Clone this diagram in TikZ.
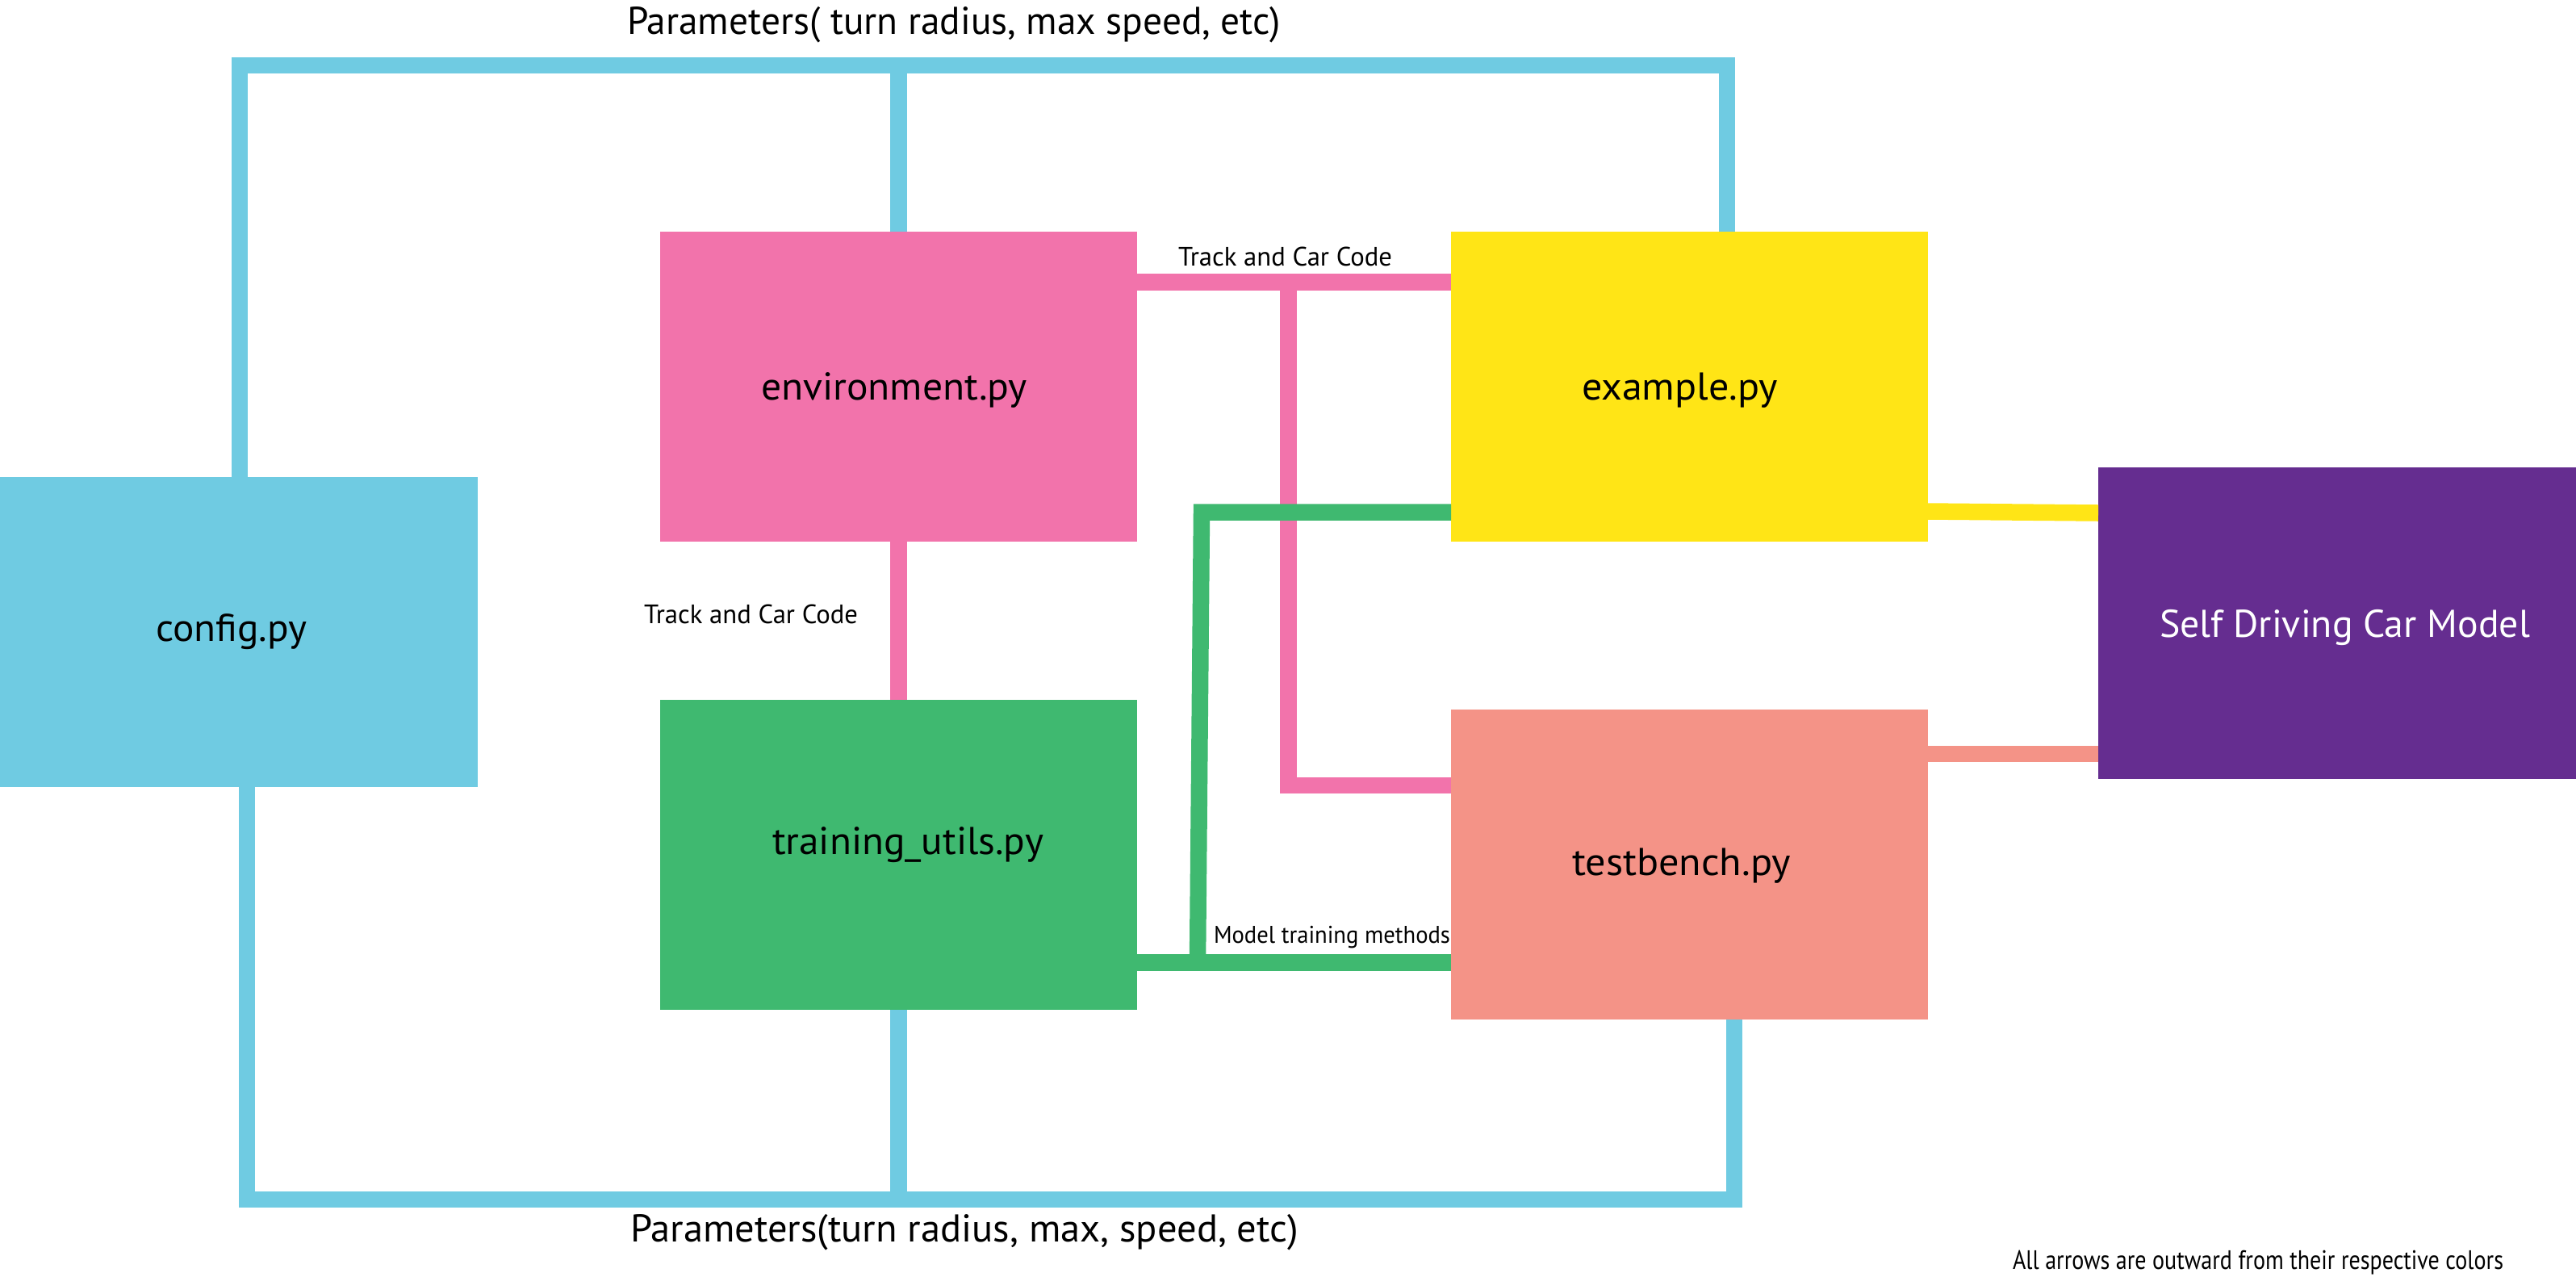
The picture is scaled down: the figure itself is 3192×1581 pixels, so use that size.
\documentclass[tikz,border=0pt]{standalone}
\usepackage{fontspec}
\setmainfont{PT Sans}
\usetikzlibrary{calc}
\definecolor{cblue}{HTML}{6FCBE2}
\definecolor{cpink}{HTML}{F273AB}
\definecolor{cgreen}{HTML}{3FB970}
\definecolor{cyellow}{HTML}{FFE516}
\definecolor{csalmon}{HTML}{F49387}
\definecolor{cpurple}{HTML}{652D90}
\newcommand\fw[2]{\resizebox{#1}{\height}{#2}}
\tikzset{
  boxnode/.style={rectangle, draw=none, inner sep=0pt, outer sep=0pt, anchor=north west},
  conn/.style={line width=10.25pt, line cap=butt, line join=miter},
  blueline/.style={conn, draw=cblue},
  pinkline/.style={conn, draw=cpink},
  greenline/.style={conn, draw=cgreen},
  yellowline/.style={conn, draw=cyellow},
  salmonline/.style={conn, draw=csalmon},
  lbl/.style={inner sep=0pt, outer sep=0pt, anchor=base west, text=black},
  boxfont/.style={font=\fontsize{24}{28}\selectfont},
  bigfont/.style={font=\fontsize{24}{28}\selectfont},
  smallfont/.style={font=\fontsize{16.5}{20}\selectfont}
}
\begin{document}
\begin{tikzpicture}[x=0.5pt, y=-0.5pt]
\useasboundingbox (0,0) rectangle (3192,1581);
% boxes
\node[boxnode, fill=cblue, minimum width=296pt, minimum height=192pt] (cfg) at (0,591) {};
\node[boxnode, fill=cpink, minimum width=295.5pt, minimum height=192pt] (env) at (818,287) {};
\node[boxnode, fill=cgreen, minimum width=295.5pt, minimum height=192pt] (trn) at (818,867) {};
\node[boxnode, fill=cyellow, minimum width=295.5pt, minimum height=192pt] (ex) at (1798,287) {};
\node[boxnode, fill=csalmon, minimum width=295.5pt, minimum height=192pt] (tb) at (1798,879) {};
\node[boxnode, fill=cpurple, minimum width=296pt, minimum height=193pt] (sdc) at (2600,579) {};
% junction coordinates
\coordinate (tlc) at (297,81);
\coordinate (trc) at (2140,81);
\coordinate (blc) at (306,1486);
\coordinate (brc) at (2149,1486);
\coordinate (pj) at (1596.5,349.5);
\coordinate (pc) at (1596.5,973);
\coordinate (gj) at (1484,1192.5);
\coordinate (gc) at (1489,634.5);
% blue frames
\draw[blueline] (cfg.north -| tlc) -- (tlc) -- (trc) -- (ex.north -| trc);
\draw[blueline] (env.north) -- (env.north |- tlc);
\draw[blueline] (cfg.south -| blc) -- (blc) -- (brc) -- (tb.south -| brc);
\draw[blueline] (trn.south) -- (trn.south |- blc);
% pink
\draw[pinkline] ($(env.north east)+(0,62.5)$) -- ($(ex.north west)+(0,62.5)$);
\draw[pinkline] (pj) -- (pc) -- (tb.west |- pc);
\draw[pinkline] (env.south) -- (trn.north);
% green
\draw[greenline] ($(trn.north east)+(0,325.5)$) -- ($(tb.north west)+(0,313.5)$);
\draw[greenline] (gj) -- (gc) -- (ex.west |- gc);
% yellow and salmon
\draw[yellowline] ($(ex.north east)+(0,346.5)$) -- ($(sdc.north west)+(0,56.5)$);
\draw[salmonline] ($(tb.north east)+(0,55)$) -- ($(sdc.north west)+(0,355)$);
% labels
\node[lbl, boxfont] (cfglbl) at (193,794) {\fw{93.5pt}{config.py}};
\node[lbl, boxfont] (envlbl) at (943,495) {\fw{165pt}{environment.py}};
\node[lbl, boxfont] (trnlbl) at (957,1058) {\fw{168pt}{training\_utils.py}};
\node[lbl, boxfont] (exlbl) at (1960,495) {\fw{121.5pt}{example.py}};
\node[lbl, boxfont] (tblbl) at (1948,1084) {\fw{135.5pt}{testbench.py}};
\node[lbl, boxfont, text=white] (sdclbl) at (2676,789) {\fw{229.5pt}{Self Driving Car Model}};
\node[lbl, bigfont] (ptop) at (777,42) {\fw{405pt}{Parameters( turn radius, max speed, etc)}};
\node[lbl, bigfont] (pbot) at (781,1538) {\fw{414pt}{Parameters(turn radius, max, speed, etc)}};
\node[lbl, smallfont] (tc1) at (1460,329) {\fw{132.5pt}{Track and Car Code}};
\node[lbl, smallfont] (tc2) at (798,772) {\fw{132.5pt}{Track and Car Code}};
\node[lbl, font=\fontsize{15}{18}\selectfont] (mtm) at (1504,1168) {\fw{146.5pt}{Model training methods}};
\node[lbl, smallfont] (note) at (2494,1572) {\fw{304pt}{All arrows are outward from their respective colors}};
\end{tikzpicture}
\end{document}
